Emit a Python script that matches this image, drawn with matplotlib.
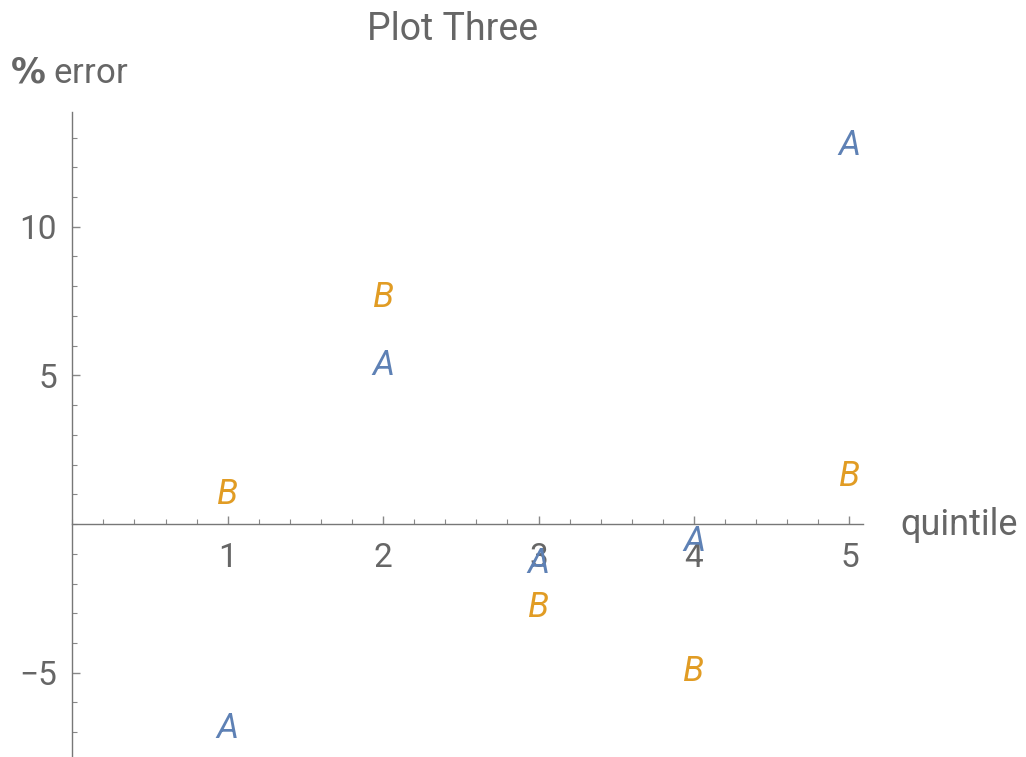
import matplotlib.pyplot as plt
from matplotlib.ticker import MultipleLocator, FixedLocator

# quintile positions and % error for the two series
quintiles = [1, 2, 3, 4, 5]
err_a = [-6.79, 5.42, -1.21, -0.50, 12.83]
err_b = [1.11, 7.72, -2.71, -4.84, 1.71]

x_ticks = [1, 2, 3, 4, 5]
y_ticks = [-5, 5, 10]

blue = '#5E81B5'
orange = '#E19C24'
gray = '#666666'

plt.rcParams['font.family'] = ['Roboto', 'DejaVu Sans']

fig = plt.figure(figsize=(10.26, 7.57), dpi=100)
ax = fig.add_axes([0.0705, 0.0013, 0.771, 0.8512])

ax.set_xlim(0, 5.09)
ax.set_ylim(-7.8, 13.87)

# Mathematica style axes crossing at the origin
ax.spines['left'].set_position(('data', 0))
ax.spines['bottom'].set_position(('data', 0))
ax.spines['top'].set_visible(False)
ax.spines['right'].set_visible(False)
for s in ('left', 'bottom'):
    ax.spines[s].set_color('#777777')
    ax.spines[s].set_linewidth(1.0)

ax.xaxis.set_major_locator(FixedLocator(x_ticks))
ax.xaxis.set_minor_locator(MultipleLocator(0.2))
ax.yaxis.set_major_locator(FixedLocator(y_ticks))
ax.yaxis.set_minor_locator(MultipleLocator(1))

ax.tick_params(which='both', direction='in', colors='#888888', labelcolor=gray,
               labelsize=24)
ax.tick_params(which='major', length=6, width=1)
ax.tick_params(which='minor', length=3.5, width=0.8)
ax.tick_params(axis='x', which='major', pad=13)
ax.tick_params(axis='y', which='major', pad=11)

# data points drawn as letters
for x, y in zip(quintiles, err_a):
    ax.annotate('A', (x, y), xytext=(0, -9), textcoords='offset points',
                ha='center', va='baseline', color=blue, fontsize=25,
                style='italic')
for x, y in zip(quintiles, err_b):
    ax.annotate('B', (x, y), xytext=(0, -9), textcoords='offset points',
                ha='center', va='baseline', color=orange, fontsize=25,
                style='italic')

fig.text(453 / 1026, 1 - 30 / 757, 'Plot Three', ha='center', va='center',
         fontsize=27, color=gray)
fig.text(10 / 1026, 1 - 73 / 757, r'$\mathbf{\%}$ error', ha='left', va='center',
         fontsize=25, color=gray)
fig.text(900 / 1026, 1 - 525 / 757, 'quintile', ha='left', va='center',
         fontsize=26, color=gray)

fig.savefig('out.png', dpi=100)
